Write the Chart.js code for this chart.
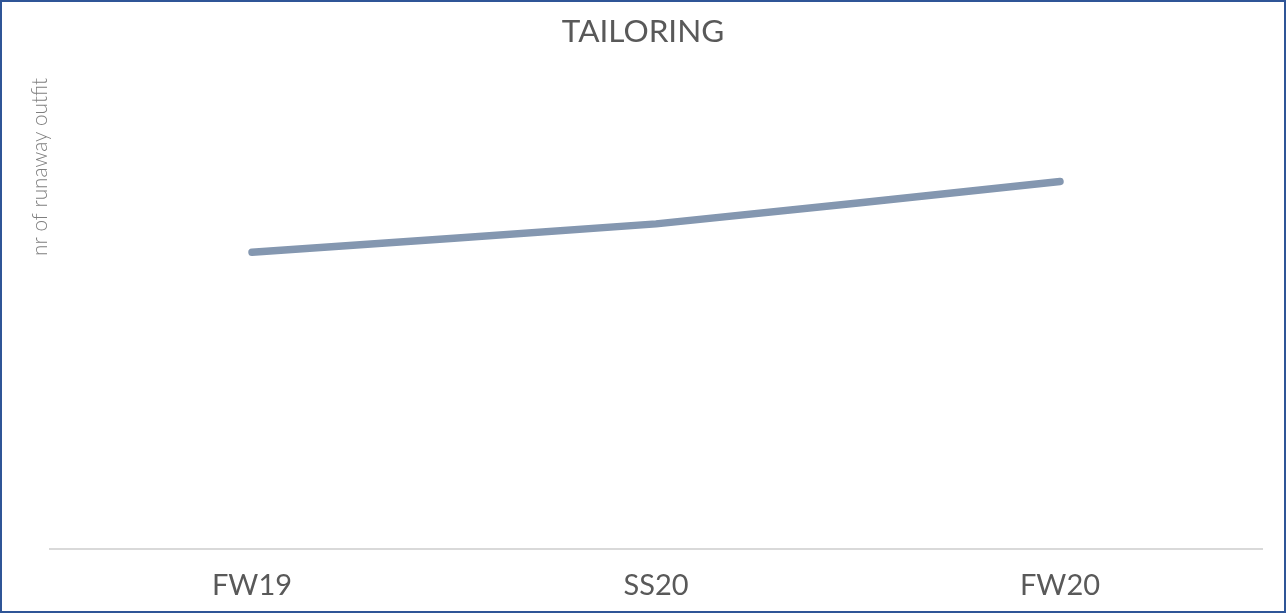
<!DOCTYPE html>
<html>
<head>
<meta charset="utf-8">
<script src="https://cdn.jsdelivr.net/npm/chart.js@4/dist/chart.umd.min.js"></script>
<style>
  html, body { margin: 0; padding: 0; background: #fff; }
  #wrap {
    width: 1286px; height: 613px; box-sizing: border-box;
    border: 2px solid #2f5597; background: #fff;
  }
  #wrap canvas { display: block; }
</style>
</head>
<body>
<div id="wrap"><canvas id="chart" width="1282" height="609"></canvas></div>
<script>
const seasons = ['FW19', 'SS20', 'FW20'];
const tailoringValues = [63, 69, 78];
const yMin = 0;
const yMax = 100;

const LINE_COLOR = '#8497b0';
const TEXT_COLOR = '#595959';

new Chart(document.getElementById('chart'), {
    type: 'line',
    data: {
        labels: seasons,
        datasets: [{
            label: 'TAILORING',
            data: tailoringValues,
            borderColor: LINE_COLOR,
            backgroundColor: LINE_COLOR,
            borderWidth: 7.5,
            borderCapStyle: 'round',
            borderJoinStyle: 'round',
            tension: 0.1,
            pointRadius: 0,
            fill: false,
        }],
    },
    options: {
        responsive: false,
        animation: false,
        layout: { padding: 0 },
        plugins: {
            legend: { display: false },
            tooltip: { enabled: false },
            title: {
                display: true,
                text: 'TAILORING',
                color: TEXT_COLOR,
                font: { family: 'Lato', size: 31.5, weight: 'normal' },
                padding: { top: 11, bottom: 27 },
            },
        },
        scales: {
            x: {
                offset: true,
                grid: { display: false, drawTicks: false },
                border: { display: true, color: '#d9d9d9', width: 2 },
                ticks: {
                    color: TEXT_COLOR,
                    font: { family: 'Lato', size: 29 },
                    padding: 19,
                    maxRotation: 0,
                },
                afterFit(scale) { scale.height = 62; },
            },
            y: {
                min: yMin,
                max: yMax,
                grid: { display: false, drawTicks: false },
                border: { display: false },
                ticks: { display: false },
                title: {
                    display: true,
                    text: 'nr of runaway outfit',
                    align: 'end',
                    color: '#7f7f7f',
                    font: { family: 'Lato', size: 20.7, weight: 300 },
                    padding: { top: 26, bottom: 0 },
                },
                afterFit(scale) { scale.width = 48; },
            },
            // empty right-hand gap so the title stays centred on the canvas
            gap: {
                axis: 'y',
                position: 'right',
                grid: { display: false, drawTicks: false },
                border: { display: false },
                ticks: { display: false },
                afterFit(scale) { scale.width = 22; },
            },
        },
    },
});
</script>
</body>
</html>
